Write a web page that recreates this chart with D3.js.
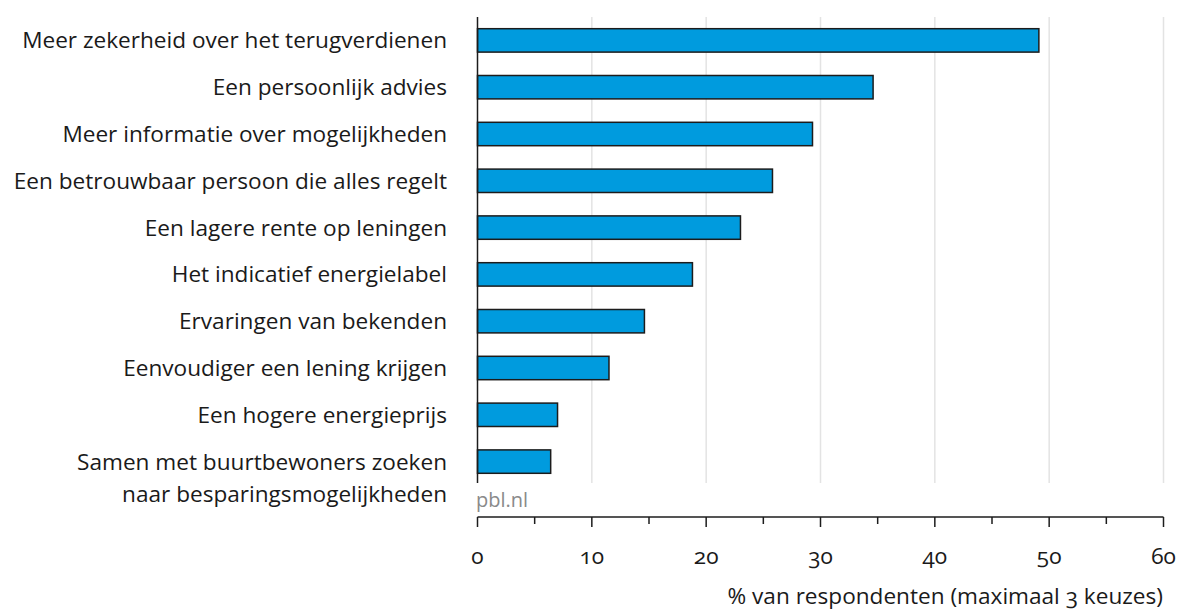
<!DOCTYPE html>
<html>
<head>
<meta charset="utf-8">
<script src="https://cdn.jsdelivr.net/npm/d3@7"></script>
<style>
  body { margin: 0; background: #fff; }
  svg text { font-family: "Open Sans", sans-serif; }
  .tick-label { font-variant-numeric: oldstyle-nums; font-feature-settings: "onum"; }
</style>
</head>
<body>
<div id="chart"></div>
<script>
// Gegevens
const categories = [
  ['Meer zekerheid over het terugverdienen'],
  ['Een persoonlijk advies'],
  ['Meer informatie over mogelijkheden'],
  ['Een betrouwbaar persoon die alles regelt'],
  ['Een lagere rente op leningen'],
  ['Het indicatief energielabel'],
  ['Ervaringen van bekenden'],
  ['Eenvoudiger een lening krijgen'],
  ['Een hogere energieprijs'],
  ['Samen met buurtbewoners zoeken', 'naar besparingsmogelijkheden']
];
const values = [49.1, 34.6, 29.3, 25.8, 23.0, 18.8, 14.6, 11.5, 7.0, 6.4];
const xTicks = [0, 10, 20, 30, 40, 50, 60];
const xTitle = '% van respondenten (maximaal 3 keuzes)';
const source = 'pbl.nl';

const width = 1180, height = 612;
const svg = d3.select('#chart').append('svg')
  .attr('width', width)
  .attr('height', height);

const x = d3.scaleLinear().domain([0, 60]).range([477.5, 1163.5]);
const y = d3.scaleBand()
  .domain(d3.range(values.length))
  .range([17, 485])
  .paddingInner(0.5)
  .paddingOuter(0.25);

const plotBottom = 483;
const axisY = 517;

// rasterlijnen
svg.selectAll('line.grid')
  .data(xTicks.filter(d => d > 0))
  .enter()
  .append('line')
  .attr('class', 'grid')
  .attr('x1', d => x(d)).attr('x2', d => x(d))
  .attr('y1', 17).attr('y2', plotBottom)
  .attr('stroke', '#e3e3e3')
  .attr('stroke-width', 1.5)

// balken
svg.selectAll('rect.bar')
  .data(values)
  .enter()
  .append('rect')
  .attr('class', 'bar')
  .attr('x', x(0))
  .attr('y', (d, i) => y(i))
  .attr('width', d => x(d) - x(0))
  .attr('height', y.bandwidth())
  .attr('fill', '#009bde')
  .attr('stroke', '#1c1c1c')
  .attr('stroke-width', 1.5)

// verticale as
svg.append('line')
  .attr('x1', x(0)).attr('x2', x(0))
  .attr('y1', 17).attr('y2', plotBottom)
  .attr('stroke', '#1c1c1c')
  .attr('stroke-width', 1.5)

// categorie labels
const labels = svg.selectAll('text.cat')
  .data(categories)
  .enter()
  .append('text')
  .attr('class', 'cat')
  .attr('text-anchor', 'end')
  .attr('fill', '#1a1a1a')
  .attr('font-size', '22.6px')
  .attr('y', (d, i) => y(i) + y.bandwidth() / 2)

labels.selectAll('tspan')
  .data(d => d)
  .enter()
  .append('tspan')
  .attr('x', 447)
  .attr('dy', (d, i) => i === 0 ? '0.35em' : '32px')
  .text(d => d)

// bron
svg.append('text')
  .attr('x', 476)
  .attr('y', 507)
  .attr('fill', '#8a8a8a')
  .attr('font-size', '20px')
  .text(source)

// x-as
const axis = svg.append('g')
  .attr('transform', `translate(0,${axisY})`)

axis.append('line')
  .attr('x1', x(0)).attr('x2', x(60))
  .attr('stroke', '#1c1c1c')
  .attr('stroke-width', 1.5)

axis.selectAll('line.minor')
  .data(d3.range(5, 60, 10))
  .enter()
  .append('line')
  .attr('x1', d => x(d)).attr('x2', d => x(d))
  .attr('y1', 0).attr('y2', 7)
  .attr('stroke', '#1c1c1c')
  .attr('stroke-width', 1.5)

axis.selectAll('line.major')
  .data(xTicks)
  .enter()
  .append('line')
  .attr('x1', d => x(d)).attr('x2', d => x(d))
  .attr('y1', 0).attr('y2', 10)
  .attr('stroke', '#1c1c1c')
  .attr('stroke-width', 1.5)

axis.selectAll('text.tick-label')
  .data(xTicks)
  .enter()
  .append('text')
  .attr('class', 'tick-label')
  .attr('x', d => x(d))
  .attr('y', 47)
  .attr('text-anchor', 'middle')
  .attr('fill', '#1a1a1a')
  .attr('font-size', '22.6px')
  .text(d => d)

svg.append('text')
  .attr('x', 1163)
  .attr('y', 604)
  .attr('text-anchor', 'end')
  .attr('fill', '#1a1a1a')
  .attr('font-size', '22.6px')
  .attr('class', 'tick-label')
  .text(xTitle)
</script>
</body>
</html>
